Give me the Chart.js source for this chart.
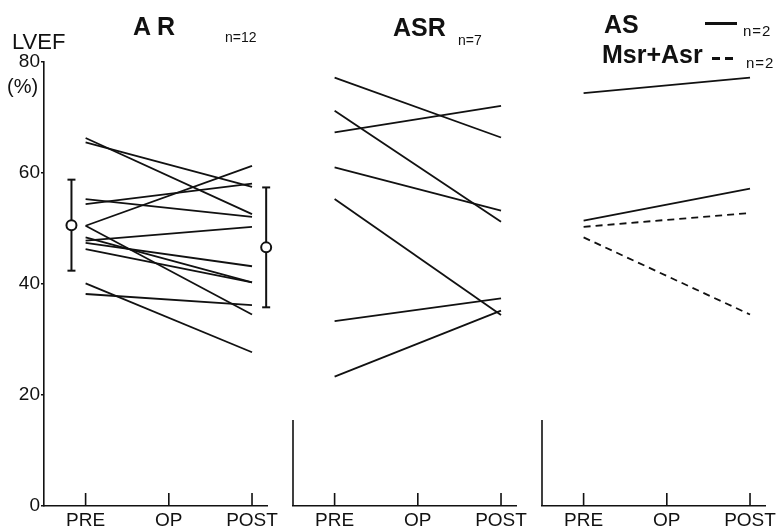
<!DOCTYPE html>
<html>
<head>
<meta charset="utf-8">
<script src="https://cdn.jsdelivr.net/npm/chart.js@4.4.1/dist/chart.umd.min.js"></script>
<style>
  body { margin: 0; background: #fff; }
  #wrap { position: relative; width: 780px; height: 527px; font-family: "Liberation Sans", Arial, sans-serif; color: #111; }
  canvas { position: absolute; left: 0; top: 0; }
  .t { position: absolute; white-space: nowrap; line-height: 1; }
  .b { font-weight: bold; }
</style>
</head>
<body>
<div id="wrap">
  <canvas id="arChart" width="780" height="527"></canvas>
  <canvas id="asrChart" width="780" height="527"></canvas>
  <canvas id="asChart" width="780" height="527"></canvas>

  <div class="t" style="left:12px;top:31px;font-size:22px;">LVEF</div>
  <div class="t" style="left:7px;top:76px;font-size:20px;">(%)</div>

  <div class="t b" style="left:133px;top:14px;font-size:25px;">A R</div>
  <div class="t" style="left:225px;top:30px;font-size:14px;">n=12</div>

  <div class="t b" style="left:393px;top:15px;font-size:25px;">ASR</div>
  <div class="t" style="left:458px;top:33px;font-size:14px;">n=7</div>

  <div class="t b" style="left:604px;top:12px;font-size:25px;">AS</div>
  <div style="position:absolute;left:705px;top:22px;width:32px;height:3px;background:#111;"></div>
  <div class="t" style="left:743px;top:23px;font-size:15px;letter-spacing:1px;">n=2</div>
  <div class="t b" style="left:602px;top:42px;font-size:25px;">Msr+Asr</div>
  <div style="position:absolute;left:712px;top:57px;width:21px;height:3px;background:repeating-linear-gradient(90deg,#111 0 8px,transparent 8px 13px);"></div>
  <div class="t" style="left:746px;top:55px;font-size:15px;letter-spacing:1px;">n=2</div>
</div>
<script>
// time points on the x axis
const groups = ['PRE', 'OP', 'POST'];
const yTicks = [0, 20, 40, 60, 80];

// AR, n=12 (LVEF %, pre -> post)
const arPre  = [66.3, 65.5, 55.3, 54.4, 50.5, 50.5, 48.4, 47.8, 47.4, 46.3, 40.1, 38.2];
const arPost = [52.6, 57.5, 52.1, 58.1, 61.3, 34.5, 40.3, 50.3, 43.2, 40.3, 27.7, 36.2];
// AR mean and SD, pre and post
const arMean = [50.6, 46.6];
const arSd   = [8.2, 10.8];

// ASR, n=7
const asrPre  = [77.2, 71.2, 67.3, 61.0, 55.3, 33.3, 23.3];
const asrPost = [66.4, 51.2, 72.1, 53.2, 34.4, 37.4, 35.2];

// AS, n=2 (solid) and Msr+Asr, n=2 (dashed)
const asPre  = [74.4, 51.4];
const asPost = [77.2, 57.2];
const msrPre  = [50.3, 48.4];
const msrPost = [52.8, 34.5];

const INK = '#111';
const FONT = '"Liberation Sans", Arial, sans-serif';
const MEAN_OFFSET = 0.17;

// inward tick marks on the x axis and the short y axis stub
const frame = {
    id: 'frame',
    afterDraw(chart, args, opts) {
        const { ctx, chartArea, scales: { x, y } } = chart;
        ctx.save();
        ctx.strokeStyle = INK;
        ctx.lineWidth = 1.6;
        ctx.beginPath();
        groups.forEach((g, i) => {
            const px = x.getPixelForValue(i);
            ctx.moveTo(px, chartArea.bottom);
            ctx.lineTo(px, chartArea.bottom - 13);
        });
        if (opts.axisTop) {
            ctx.moveTo(chartArea.left, y.getPixelForValue(0));
            ctx.lineTo(chartArea.left, y.getPixelForValue(opts.axisTop));
        }
        ctx.stroke();
        ctx.restore();
    }
};

function pairLines(pre, post, dash) {
    return pre.map((v, i) => ({
        data: [{ x: 0, y: v }, { x: 2, y: post[i] }],
        showLine: true,
        borderColor: INK,
        borderWidth: 1.8,
        borderDash: dash || [],
        pointRadius: 0,
        clip: false
    }));
}

function makeConfig(datasets, left, showY, axisTop) {
    const yw = showY ? 44 : 0;
    return {
        type: 'scatter',
        data: { datasets: datasets },
        plugins: [frame],
        options: {
            responsive: false,
            animation: false,
            layout: { padding: { left: left, top: 62, right: 780 - left - yw - 223, bottom: 0 } },
            plugins: {
                legend: { display: false },
                tooltip: { enabled: false },
                frame: { axisTop: axisTop }
            },
            scales: {
                x: {
                    type: 'linear',
                    min: -0.5,
                    max: 2.18,
                    afterBuildTicks: (s) => { s.ticks = groups.map((g, i) => ({ value: i })); },
                    afterFit: (s) => { s.height = 21; },
                    grid: { display: false, drawTicks: false },
                    border: { display: true, color: INK, width: 1.6 },
                    ticks: {
                        color: INK,
                        font: { family: FONT, size: 19 },
                        padding: 3,
                        maxRotation: 0,
                        autoSkip: false,
                        callback: (v) => groups[v]
                    }
                },
                y: {
                    display: showY,
                    min: 0,
                    max: 80,
                    afterBuildTicks: (s) => { s.ticks = yTicks.map((v) => ({ value: v })); },
                    afterFit: (s) => { s.width = yw; },
                    grid: { drawOnChartArea: false, tickLength: 3, color: INK, lineWidth: 1.5 },
                    border: { display: true, color: INK, width: 1.6 },
                    ticks: { color: INK, font: { family: FONT, size: 19 }, padding: 1 }
                }
            }
        }
    };
}

// AR panel: mean circles drawn on top of SD bars
const arSets = [
    {
        data: [{ x: -MEAN_OFFSET, y: arMean[0] }, { x: 2 + MEAN_OFFSET, y: arMean[1] }],
        pointRadius: 5,
        pointBackgroundColor: '#fff',
        pointBorderColor: INK,
        pointBorderWidth: 2,
        clip: false
    },
    {
        data: [{ x: -MEAN_OFFSET, y: arMean[0] - arSd[0] }, { x: -MEAN_OFFSET, y: arMean[0] + arSd[0] }],
        showLine: true, borderColor: INK, borderWidth: 2,
        pointStyle: 'line', pointRadius: 4, pointBorderColor: INK, pointBorderWidth: 2, clip: false
    },
    {
        data: [{ x: 2 + MEAN_OFFSET, y: arMean[1] - arSd[1] }, { x: 2 + MEAN_OFFSET, y: arMean[1] + arSd[1] }],
        showLine: true, borderColor: INK, borderWidth: 2,
        pointStyle: 'line', pointRadius: 4, pointBorderColor: INK, pointBorderWidth: 2, clip: false
    }
].concat(pairLines(arPre, arPost));

new Chart(document.getElementById('arChart'), makeConfig(arSets, 0, true, null));
new Chart(document.getElementById('asrChart'), makeConfig(pairLines(asrPre, asrPost), 293, false, 15.5));
new Chart(document.getElementById('asChart'),
    makeConfig(pairLines(asPre, asPost).concat(pairLines(msrPre, msrPost, [7, 5])), 542, false, 15.5));
</script>
</body>
</html>
